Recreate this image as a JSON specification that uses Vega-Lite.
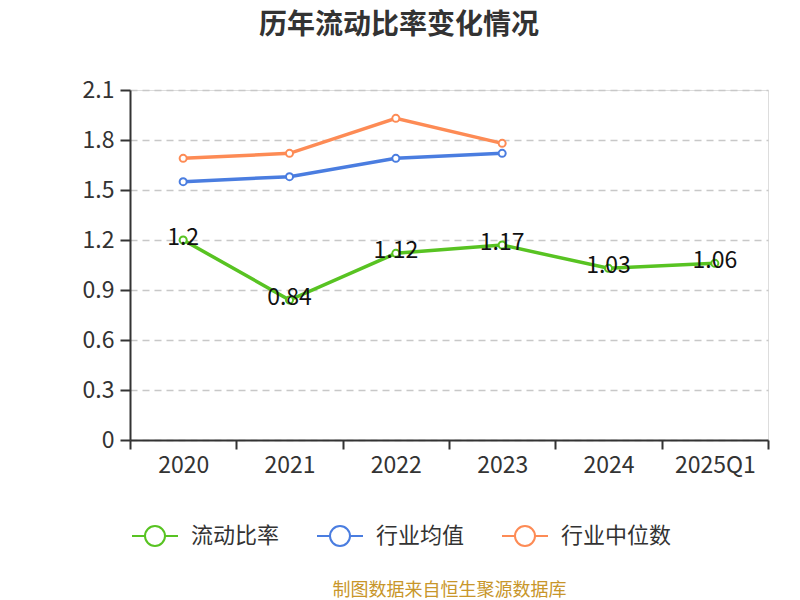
{
  "$schema": "https://vega.github.io/schema/vega-lite/v6.json",
  "autosize": {"type": "none"},
  "padding": {"left": 130, "top": 90, "right": 32, "bottom": 160},
  "width": 638,
  "height": 350,
  "title": {
    "text": "历年流动比率变化情况",
    "anchor": "middle",
    "dx": -50,
    "offset": 39,
    "font": "Noto Sans CJK SC",
    "fontSize": 28,
    "fontWeight": "bold",
    "color": "#333333"
  },
  "data": {"values": [
    {"year": "2020", "series": "流动比率", "value": 1.2},
    {"year": "2021", "series": "流动比率", "value": 0.84},
    {"year": "2022", "series": "流动比率", "value": 1.12},
    {"year": "2023", "series": "流动比率", "value": 1.17},
    {"year": "2024", "series": "流动比率", "value": 1.03},
    {"year": "2025Q1", "series": "流动比率", "value": 1.06},
    {"year": "2020", "series": "行业均值", "value": 1.55},
    {"year": "2021", "series": "行业均值", "value": 1.58},
    {"year": "2022", "series": "行业均值", "value": 1.69},
    {"year": "2023", "series": "行业均值", "value": 1.72},
    {"year": "2020", "series": "行业中位数", "value": 1.69},
    {"year": "2021", "series": "行业中位数", "value": 1.72},
    {"year": "2022", "series": "行业中位数", "value": 1.93},
    {"year": "2023", "series": "行业中位数", "value": 1.78}
  ]},
  "encoding": {
    "x": {
      "field": "year",
      "type": "ordinal",
      "sort": ["2020", "2021", "2022", "2023", "2024", "2025Q1"],
      "scale": {"type": "band", "paddingInner": 0, "paddingOuter": 0},
      "axis": {
        "title": "制图数据来自恒生聚源数据库",
        "titleFont": "Noto Sans CJK SC",
        "titleFontSize": 18,
        "titleFontWeight": "normal",
        "titleColor": "#c8962a",
        "titlePadding": 104,
        "labelAngle": 0,
        "labelFont": "Noto Sans CJK SC",
        "labelFontSize": 23,
        "labelColor": "#333333",
        "labelPadding": 5,
        "tickBand": "extent",
        "tickSize": 9,
        "tickWidth": 2,
        "tickColor": "#333333",
        "domainColor": "#333333",
        "domainWidth": 2,
        "grid": false
      }
    },
    "y": {
      "field": "value",
      "type": "quantitative",
      "scale": {"domain": [0, 2.1], "nice": false},
      "axis": {
        "title": null,
        "values": [0, 0.3, 0.6, 0.9, 1.2, 1.5, 1.8, 2.1],
        "format": "~g",
        "labelFont": "Noto Sans CJK SC",
        "labelFontSize": 23,
        "labelColor": "#333333",
        "labelPadding": 6,
        "tickSize": 10,
        "tickWidth": 2,
        "tickColor": "#333333",
        "domainColor": "#333333",
        "domainWidth": 2,
        "grid": true,
        "gridColor": "#c8c8c8",
        "gridDash": [7, 5],
        "gridWidth": 1.5
      }
    },
    "color": {
      "field": "series",
      "type": "nominal",
      "scale": {
        "domain": ["流动比率", "行业均值", "行业中位数"],
        "range": ["#58c322", "#4a7de0", "#fd8b55"]
      },
      "legend": {
        "title": null,
        "orient": "none",
        "direction": "horizontal",
        "legendX": 14,
        "legendY": 435,
        "symbolType": "M-2.3,0 L-1,0 M1,0 L2.3,0 M-1,0 A1,1 0 1,1 1,0 A1,1 0 1,1 -1,0",
        "symbolSize": 400,
        "symbolStrokeWidth": 2,
        "symbolFillColor": "#ffffff",
        "labelFont": "Noto Sans CJK SC",
        "labelFontSize": 22,
        "labelColor": "#333333",
        "columnPadding": 33,
        "labelOffset": 25
      }
    }
  },
  "layer": [
    {
      "mark": {
        "type": "line",
        "strokeWidth": 3.5,
        "point": {"filled": false, "fill": "#ffffff", "strokeWidth": 2, "size": 50}
      },
      "encoding": {
        "x": {"field": "year", "type": "ordinal", "bandPosition": 0.5, "sort": ["2020", "2021", "2022", "2023", "2024", "2025Q1"]}
      }
    },
    {
      "transform": [{"filter": "datum.series === '流动比率'"}],
      "mark": {
        "type": "text",
        "font": "Noto Sans CJK SC",
        "fontSize": 23,
        "baseline": "middle",
        "dy": -2
      },
      "encoding": {
        "x": {"field": "year", "type": "ordinal", "bandPosition": 0.5, "sort": ["2020", "2021", "2022", "2023", "2024", "2025Q1"]},
        "text": {"field": "value", "type": "quantitative"},
        "color": {"value": "#111111"}
      }
    }
  ]
}
